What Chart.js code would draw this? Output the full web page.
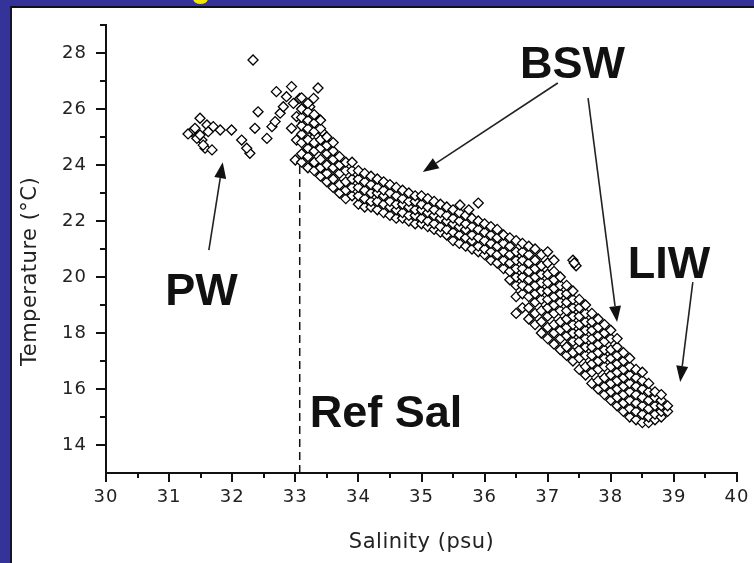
<!DOCTYPE html>
<html>
<head>
<meta charset="utf-8">
<script src="https://cdn.jsdelivr.net/npm/chart.js@4.4.1/dist/chart.umd.min.js"></script>
<style>
  html, body { margin: 0; padding: 0; background: #33339a; overflow: hidden; width: 754px; height: 563px; }
  #sheet { position: absolute; left: 10px; top: 6px; width: 744px; height: 557px; background: #fff;
           border-left: 2px solid #14142a; border-top: 2px solid #111; box-sizing: border-box; }
  #blob { position: absolute; left: 193px; top: -7px; width: 15px; height: 11px; border-radius: 50%; background: #f2e600; }
  #myChart { position: absolute; left: 0; top: 0; }
</style>
</head>
<body>
<div id="sheet"></div>
<div id="blob"></div>
<canvas id="myChart" width="754" height="563"></canvas>
<script>
// surface water group (PW) and the scattered points between it and the peak
var pwSalinity = [31.49, 31.36, 31.30, 31.41, 31.60, 31.70, 31.81, 31.99, 31.52, 31.44, 31.57, 31.68, 31.54, 31.49, 31.62,
                  32.15, 32.28, 32.23, 32.36, 32.41, 32.55, 32.33];
var pwTemp = [25.67, 25.19, 25.11, 25.31, 25.43, 25.37, 25.25, 25.25, 24.89, 24.95, 24.60, 24.54, 24.71, 25.07, 25.19,
              24.89, 24.42, 24.60, 25.31, 25.90, 24.95, 27.75];

// warm peak near the reference salinity
var peakSalinity = [32.70, 32.94, 32.86, 32.63, 32.68, 32.76, 32.81, 32.97, 33.07, 33.29, 33.23, 33.02, 33.13, 32.94, 33.02,
                    33.00, 33.13, 33.18, 33.29, 33.39, 33.42, 33.50, 33.58, 33.29, 33.39, 33.36];
var peakTemp = [26.62, 26.80, 26.44, 25.37, 25.55, 25.85, 26.08, 26.20, 26.38, 26.38, 26.08, 25.73, 25.49, 25.31, 24.89,
                24.18, 24.42, 25.07, 24.65, 25.61, 25.19, 24.77, 24.30, 24.06, 23.82, 26.75];

// main BSW / LIW band, one salinity column with its temperatures
var bandSalinity = [33.1, 33.2, 33.3, 33.4, 33.5, 33.6, 33.7, 33.8, 33.9, 34.0, 34.1, 34.2, 34.3, 34.4, 34.5, 34.6, 34.7,
                    34.8, 34.9, 35.0, 35.1, 35.2, 35.3, 35.4, 35.5, 35.6, 35.7, 35.8, 35.9, 36.0, 36.1, 36.2, 36.3,
                    36.4, 36.5, 36.6, 36.7, 36.8, 36.9, 37.0, 37.1, 37.2, 37.3, 37.4, 37.5, 37.6, 37.7, 37.8, 37.9,
                    38.0, 38.1, 38.2, 38.3, 38.4, 38.5, 38.6, 38.7, 38.8, 38.9];
var bandTemps = [
  [24.1, 24.4, 24.8, 25.1, 25.4, 25.7, 26.0, 26.4], [23.9, 24.3, 24.6, 24.9, 25.3, 25.6, 25.9, 26.2],
  [23.8, 24.1, 24.5, 24.8, 25.2, 25.5, 25.8], [23.6, 23.9, 24.2, 24.6, 24.9, 25.3, 25.6],
  [23.4, 23.7, 24.0, 24.4, 24.7, 25.0], [23.2, 23.5, 23.9, 24.2, 24.5, 24.8],
  [23.0, 23.3, 23.7, 24.0, 24.3], [22.8, 23.1, 23.4, 23.8, 24.1], [22.9, 23.2, 23.5, 23.8, 24.1],
  [22.6, 22.9, 23.2, 23.5, 23.8], [22.5, 22.8, 23.1, 23.4, 23.7], [22.5, 22.7, 23.0, 23.3, 23.6],
  [22.4, 22.7, 23.0, 23.2, 23.5], [22.3, 22.6, 22.9, 23.1, 23.4], [22.2, 22.5, 22.7, 23.0, 23.3],
  [22.1, 22.4, 22.6, 22.9, 23.2], [22.1, 22.3, 22.6, 22.8, 23.1], [22.0, 22.2, 22.5, 22.7, 23.0],
  [21.9, 22.2, 22.4, 22.7, 22.9], [21.9, 22.1, 22.4, 22.6, 22.9], [21.8, 22.0, 22.3, 22.5, 22.8],
  [21.7, 21.9, 22.2, 22.4, 22.7], [21.6, 21.8, 22.1, 22.3, 22.6], [21.5, 21.7, 22.0, 22.2, 22.5],
  [21.3, 21.6, 21.9, 22.1, 22.4], [21.2, 21.5, 21.8, 22.0, 22.3], [21.1, 21.4, 21.7, 21.9, 22.2],
  [21.0, 21.3, 21.5, 21.8, 22.1], [20.9, 21.1, 21.4, 21.7, 22.0], [20.8, 21.0, 21.3, 21.6, 21.9],
  [20.6, 20.9, 21.2, 21.5, 21.8], [20.5, 20.8, 21.1, 21.4, 21.7], [20.3, 20.6, 20.9, 21.2, 21.5],
  [19.9, 20.2, 20.5, 20.8, 21.1, 21.4],
  [18.7, 19.3, 19.7, 20.0, 20.3, 20.6, 20.9, 21.3],
  [18.9, 19.4, 19.7, 20.0, 20.3, 20.6, 20.9, 21.2],
  [18.5, 18.9, 19.3, 19.6, 19.9, 20.2, 20.5, 20.8, 21.1],
  [18.3, 18.7, 19.1, 19.4, 19.7, 20.0, 20.3, 20.6, 21.0],
  [18.0, 18.4, 18.8, 19.2, 19.5, 19.8, 20.1, 20.4, 20.8],
  [17.8, 18.2, 18.6, 18.9, 19.2, 19.5, 19.8, 20.1, 20.5, 20.9],
  [17.6, 18.0, 18.3, 18.7, 19.0, 19.3, 19.6, 19.9, 20.2, 20.6],
  [17.4, 17.8, 18.1, 18.4, 18.8, 19.1, 19.4, 19.7, 20.0],
  [17.2, 17.5, 17.9, 18.2, 18.5, 18.8, 19.1, 19.4, 19.7],
  [17.0, 17.3, 17.7, 18.0, 18.3, 18.6, 18.9, 19.2, 19.5],
  [16.7, 17.1, 17.4, 17.7, 18.0, 18.3, 18.6, 18.9, 19.2],
  [16.5, 16.8, 17.2, 17.5, 17.8, 18.1, 18.4, 18.7, 19.0],
  [16.2, 16.6, 16.9, 17.2, 17.5, 17.8, 18.1, 18.4, 18.7],
  [16.0, 16.3, 16.7, 17.0, 17.3, 17.6, 17.9, 18.2, 18.5],
  [15.8, 16.1, 16.4, 16.8, 17.1, 17.4, 17.7, 18.0, 18.3],
  [15.6, 15.9, 16.2, 16.5, 16.8, 17.1, 17.4, 17.8, 18.1],
  [15.4, 15.7, 16.0, 16.3, 16.6, 16.9, 17.2, 17.5, 17.8],
  [15.2, 15.5, 15.8, 16.1, 16.4, 16.7, 17.0, 17.3],
  [15.0, 15.3, 15.6, 15.9, 16.2, 16.5, 16.8, 17.1],
  [14.9, 15.2, 15.5, 15.8, 16.1, 16.4, 16.7],
  [14.8, 15.1, 15.4, 15.7, 16.0, 16.3, 16.6],
  [14.8, 15.0, 15.3, 15.6, 15.9, 16.2],
  [14.9, 15.1, 15.4, 15.7, 15.9],
  [15.0, 15.2, 15.4, 15.6, 15.8],
  [15.2, 15.4]
];

// a few loose points off the band
var straySalinity = [35.61, 35.90, 35.75, 37.40, 37.45, 37.42];
var strayTemp = [22.57, 22.64, 22.40, 20.60, 20.40, 20.50];

var refSalinity = 33.07;

var calloutLabels = ['PW', 'BSW', 'LIW', 'Ref Sal'];
var calloutAt = [[30.94, 19.0], [36.56, 27.11], [38.27, 19.96], [33.23, 14.64]];
var arrowFrom = [[31.63, 20.96], [37.16, 26.93], [37.64, 26.39], [39.30, 19.82]];
var arrowTo = [[31.85, 24.10], [35.02, 23.75], [38.10, 18.39], [39.10, 16.25]];

var FONT = '"DejaVu Sans", Verdana, sans-serif';
var BOLD_FONT = '"Liberation Sans", Arial, sans-serif';

var points = [];
pwSalinity.forEach(function(s, i) { points.push({x: s, y: pwTemp[i]}); });
peakSalinity.forEach(function(s, i) { points.push({x: s, y: peakTemp[i]}); });
bandSalinity.forEach(function(s, i) {
    bandTemps[i].forEach(function(t) { points.push({x: s, y: t}); });
});
straySalinity.forEach(function(s, i) { points.push({x: s, y: strayTemp[i]}); });

function drawArrow(ctx, x0, y0, x1, y1) {
    var a = Math.atan2(y1 - y0, x1 - x0);
    var len = 16, half = 6;
    var bx = x1 - len * Math.cos(a), by = y1 - len * Math.sin(a);
    ctx.beginPath();
    ctx.moveTo(x0, y0);
    ctx.lineTo(bx, by);
    ctx.stroke();
    ctx.beginPath();
    ctx.moveTo(x1, y1);
    ctx.lineTo(bx + half * Math.sin(a), by - half * Math.cos(a));
    ctx.lineTo(bx - half * Math.sin(a), by + half * Math.cos(a));
    ctx.closePath();
    ctx.fill();
}

var decor = {
    id: 'decor',
    beforeDraw: function(chart) {
        chart.ctx.letterSpacing = '1px';
    },
    beforeDatasetsDraw: function(chart) {
        var ctx = chart.ctx, x = chart.scales.x, y = chart.scales.y;
        var px = x.getPixelForValue(refSalinity);
        ctx.save();
        ctx.strokeStyle = '#111';
        ctx.lineWidth = 1.5;
        ctx.setLineDash([8, 5]);
        ctx.beginPath();
        ctx.moveTo(px, y.getPixelForValue(13));
        ctx.lineTo(px, y.getPixelForValue(24));
        ctx.stroke();
        ctx.restore();
    },
    afterDraw: function(chart) {
        var ctx = chart.ctx, x = chart.scales.x, y = chart.scales.y, area = chart.chartArea;
        ctx.save();
        // short minor ticks
        ctx.strokeStyle = '#111';
        ctx.lineWidth = 2;
        ctx.beginPath();
        for (var v = 15; v <= 29; v += 2) {
            var py = Math.round(y.getPixelForValue(v));
            ctx.moveTo(area.left - 6, py);
            ctx.lineTo(area.left, py);
        }
        for (var s = 30.5; s < 40; s += 1) {
            var sx = Math.round(x.getPixelForValue(s));
            ctx.moveTo(sx, area.bottom);
            ctx.lineTo(sx, area.bottom + 5);
        }
        ctx.stroke();

        // axis titles
        ctx.fillStyle = '#222';
        ctx.font = '21px ' + FONT;
        ctx.letterSpacing = '0.5px';
        ctx.textAlign = 'center';
        ctx.textBaseline = 'middle';
        ctx.fillText('Salinity (psu)', (area.left + area.right) / 2, area.bottom + 70);
        ctx.save();
        ctx.translate(area.left - 75, y.getPixelForValue(20.2));
        ctx.rotate(-Math.PI / 2);
        ctx.fillText('Temperature (°C)', 0, 0);
        ctx.restore();

        // callout arrows and labels
        ctx.letterSpacing = '0px';
        ctx.strokeStyle = '#222';
        ctx.fillStyle = '#111';
        ctx.lineWidth = 1.6;
        for (var i = 0; i < arrowFrom.length; i++) {
            drawArrow(ctx, x.getPixelForValue(arrowFrom[i][0]), y.getPixelForValue(arrowFrom[i][1]),
                      x.getPixelForValue(arrowTo[i][0]), y.getPixelForValue(arrowTo[i][1]));
        }
        ctx.font = 'bold 45px ' + BOLD_FONT;
        ctx.textAlign = 'left';
        ctx.textBaseline = 'alphabetic';
        for (var j = 0; j < calloutLabels.length; j++) {
            ctx.fillText(calloutLabels[j], x.getPixelForValue(calloutAt[j][0]), y.getPixelForValue(calloutAt[j][1]));
        }
        ctx.restore();
    }
};

var tickFont = {family: FONT, size: 18};

var ctx = document.getElementById('myChart').getContext('2d');
var myChart = new Chart(ctx, {
    type: 'scatter',
    data: {
        datasets: [{
            data: points,
            pointStyle: 'rectRot',
            pointRadius: 5,
            pointBackgroundColor: '#fff',
            pointBorderColor: '#000',
            pointBorderWidth: 1.3
        }]
    },
    options: {
        responsive: false,
        animation: false,
        events: [],
        layout: { padding: { left: 0, right: 17, top: 25, bottom: 0 } },
        plugins: { legend: { display: false }, tooltip: { enabled: false } },
        scales: {
            x: {
                type: 'linear',
                min: 30,
                max: 40,
                afterFit: function(scale) { scale.height = 90; },
                ticks: {
                    stepSize: 0.5,
                    autoSkip: false,
                    maxRotation: 0,
                    padding: 5,
                    color: '#222',
                    font: tickFont,
                    callback: function(v) { return Number.isInteger(v) ? v : ''; }
                },
                grid: {
                    drawOnChartArea: false,
                    tickLength: 9,
                    lineWidth: 2,
                    tickColor: function(c) { return c.tick && Number.isInteger(c.tick.value) ? '#111' : 'rgba(0,0,0,0)'; }
                },
                border: { display: true, color: '#111', width: 2 }
            },
            y: {
                type: 'linear',
                min: 13,
                max: 29,
                afterFit: function(scale) { scale.width = 106; },
                ticks: {
                    stepSize: 1,
                    autoSkip: false,
                    padding: 9,
                    color: '#222',
                    font: tickFont,
                    callback: function(v) { return v % 2 === 0 ? v : ''; }
                },
                grid: {
                    drawOnChartArea: false,
                    tickLength: 10,
                    lineWidth: 2,
                    tickColor: function(c) { return c.tick && c.tick.value % 2 === 0 ? '#111' : 'rgba(0,0,0,0)'; }
                },
                border: { display: true, color: '#111', width: 2 }
            }
        }
    },
    plugins: [decor]
});
</script>
</body>
</html>
